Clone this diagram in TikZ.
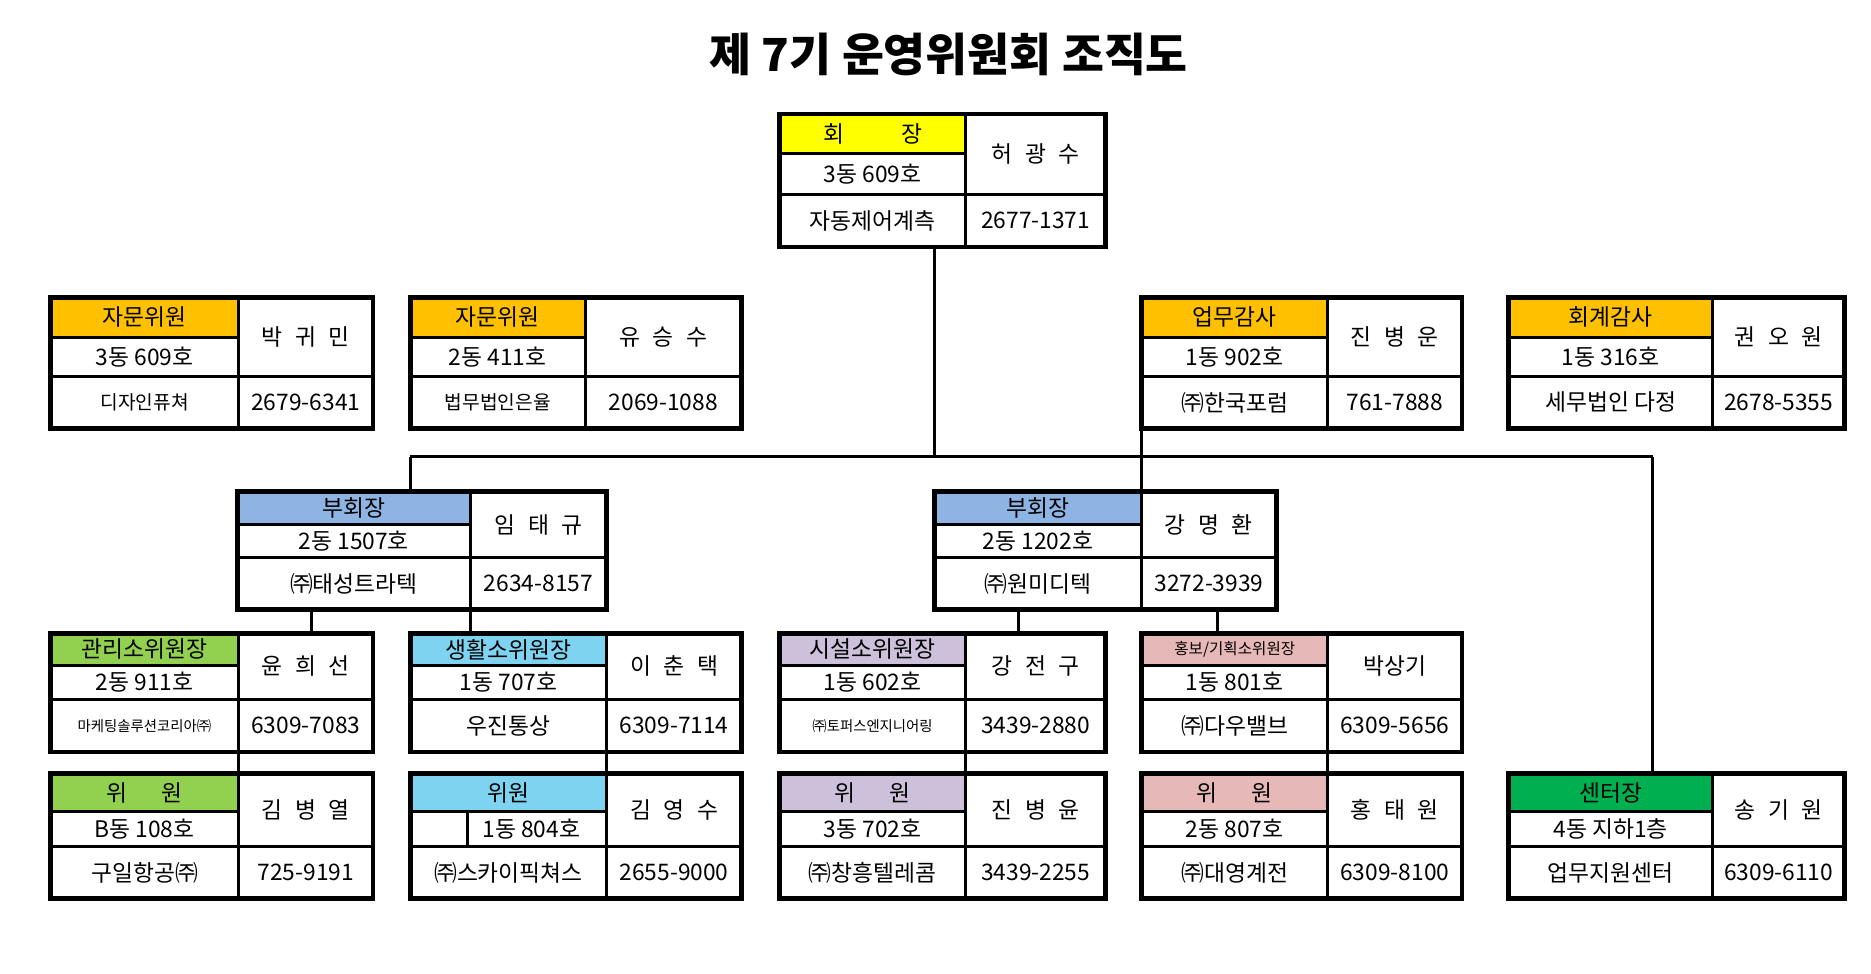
\documentclass[tikz,border=0pt]{standalone}
\usepackage{fontspec}
\setmainfont{Noto Sans CJK KR}
\usetikzlibrary{fit}
\definecolor{cyel}{HTML}{FFFF00}
\definecolor{corg}{HTML}{FFC000}
\definecolor{cblu}{HTML}{8DB4E2}
\definecolor{cgrn}{HTML}{92D050}
\definecolor{ccya}{HTML}{7DD3F0}
\definecolor{clav}{HTML}{CCC0DA}
\definecolor{cpnk}{HTML}{E6B8B7}
\definecolor{cdgr}{HTML}{00B050}
\tikzset{
  outerline/.style={line width=4pt},
  innerline/.style={line width=2.5pt},
  conn/.style={line width=2.5pt},
  txt/.style={inner sep=0pt, font=\fontsize{19}{21}\selectfont},
}
\def\splitx#1/#2/#3\relax{\def\xa{#1}\def\xb{#2}\def\xc{#3}}
\newcommand\setrow[4]{\def\ya{#1}\def\yb{#2}\def\yc{#3}\def\yd{#4}}
% name, x0/xs/x1, color, header, addr, org, person, phone
\newcommand\obox[8]{\splitx#2\relax
  \fill[#3] (\xa,\ya) rectangle (\xb,\yb);
  \draw[innerline] (\xa,\yb) -- (\xb,\yb);
  \draw[innerline] (\xa,\yc) -- (\xc,\yc);
  \draw[innerline] (\xb,\ya) -- (\xb,\yd);
  \draw[outerline] (\xa,\ya) rectangle (\xc,\yd);
  \node[fit={(\xa,\ya)(\xc,\yd)}, inner sep=0pt] (#1) {};
  \node[txt] (#1-h) at ({(\xa+\xb)/2},{(\ya+\yb)/2}) {#4};
  \node[txt] (#1-a) at ({(\xa+\xb)/2},{(\yb+\yc)/2}) {#5};
  \node[txt] (#1-o) at ({(\xa+\xb)/2},{(\yc+\yd)/2}) {#6};
  \node[txt] (#1-n) at ({(\xb+\xc)/2},{(\ya+\yc)/2}) {#7};
  \node[txt] (#1-p) at ({(\xb+\xc)/2},{(\yc+\yd)/2}) {#8};
}
\newcommand\gp{\hspace{0.55em}}
\begin{document}
\begin{tikzpicture}[x=1pt,y=-1pt]
\useasboundingbox[fill=white] (0,0) rectangle (1560,812);
\node[inner sep=0pt, font=\fontsize{38}{40}\selectfont\bfseries] (title) at (791,45) {제 7기 운영위원회 조직도};

\coordinate (hl) at (779,381);
\coordinate (hlL) at (342,381);
\coordinate (hlR) at (1378,381);
\setrow{95}{128}{162}{206}
\obox{pres}{650/805/922}{cyel}{회\hspace{2.5em}장}{3동 609호}{자동제어계측}{허\gp 광\gp 수}{2677-1371}

\draw[conn] (pres.south -| hl) -- (hl);
\draw[conn] (hlL) -- (hlR);
\draw[conn] (hlL) -- (342,410);
\draw[conn] (952,357) -- (952,410);
\draw[conn] (hlR) -- (1378,645);
\draw[conn] (260,508) -- (260,528);
\draw[conn] (392,508) -- (392,528);
\draw[conn] (849,508) -- (849,528);
\draw[conn] (1015,508) -- (1015,528);
\draw[conn] (199,627) -- (199,645);
\draw[conn] (506,627) -- (506,645);
\draw[conn] (805,627) -- (805,645);
\draw[conn] (1107,627) -- (1107,645);

\setrow{248}{281}{314}{357}
\obox{a1}{42/199/311}{corg}{자문위원}{3동 609호}{\fontsize{16}{18}\selectfont 디자인퓨쳐}{박\gp 귀\gp 민}{2679-6341}
\obox{a2}{342/488/618}{corg}{자문위원}{2동 411호}{\fontsize{16}{18}\selectfont 법무법인은율}{유\gp 승\gp 수}{2069-1088}
\obox{a3}{952/1107/1219}{corg}{업무감사}{1동 902호}{㈜한국포럼}{진\gp 병\gp 운}{761-7888}
\obox{a4}{1258/1428/1538}{corg}{회계감사}{1동 316호}{세무법인 다정}{권\gp 오\gp 원}{2678-5355}

\setrow{410}{437}{465}{508}
\obox{v1}{198/392/506}{cblu}{부회장}{2동 1507호}{㈜태성트라텍}{임\gp 태\gp 규}{2634-8157}
\obox{v2}{779/952/1064}{cblu}{부회장}{2동 1202호}{㈜원미디텍}{강\gp 명\gp 환}{3272-3939}

\setrow{528}{555}{583}{627}
\obox{c1}{42/199/311}{cgrn}{관리소위원장}{2동 911호}{\fontsize{12}{14}\selectfont 마케팅솔루션코리아㈜}{윤\gp 희\gp 선}{6309-7083}
\obox{c2}{342/506/618}{ccya}{생활소위원장}{1동 707호}{우진통상}{이\gp 춘\gp 택}{6309-7114}
\obox{c3}{650/805/922}{clav}{시설소위원장}{1동 602호}{\fontsize{12}{14}\selectfont ㈜토퍼스엔지니어링}{강\gp 전\gp 구}{3439-2880}
\obox{c4}{952/1107/1219}{cpnk}{\fontsize{13}{15}\selectfont 홍보/기획소위원장}{1동 801호}{㈜다우밸브}{박상기}{6309-5656}

\setrow{645}{677}{706}{749}
\obox{m1}{42/199/311}{cgrn}{위\hspace{1.5em}원}{B동 108호}{구일항공㈜}{김\gp 병\gp 열}{725-9191}
\obox{m2}{342/506/618}{ccya}{위원}{\hspace{2em}1동 804호}{㈜스카이픽쳐스}{김\gp 영\gp 수}{2655-9000}
\draw[innerline] (390,677) -- (390,706);
\obox{m3}{650/805/922}{clav}{위\hspace{1.5em}원}{3동 702호}{㈜창흥텔레콤}{진\gp 병\gp 윤}{3439-2255}
\obox{m4}{952/1107/1219}{cpnk}{위\hspace{1.5em}원}{2동 807호}{㈜대영계전}{홍\gp 태\gp 원}{6309-8100}
\obox{m5}{1258/1428/1538}{cdgr}{센터장}{4동 지하1층}{업무지원센터}{송\gp 기\gp 원}{6309-6110}
\end{tikzpicture}
\end{document}
